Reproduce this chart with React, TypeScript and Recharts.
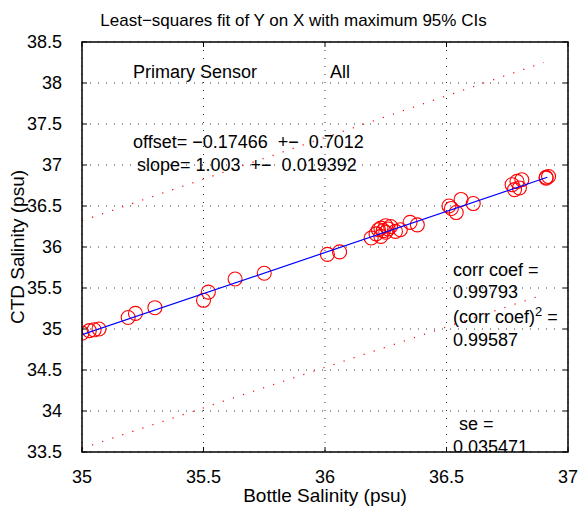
import React from "react";
import { Scatter, ScatterChart, XAxis, YAxis } from "recharts";

// bottle vs CTD salinity samples (psu)
const bottleSal = [
  35.0, 35.03, 35.05, 35.07, 35.19, 35.22, 35.3, 35.5, 35.52, 35.63, 35.75, 36.01, 36.06,
  36.19, 36.21, 36.23, 36.22, 36.23, 36.25, 36.27, 36.25, 36.29, 36.31, 36.35, 36.38, 36.24, 36.26,
  36.51, 36.52, 36.54, 36.56, 36.61, 36.77, 36.79, 36.81, 36.78, 36.8, 36.91, 36.92, 36.91,
];
const ctdSal = [
  34.95, 34.98, 34.99, 35.0, 35.14, 35.19, 35.26, 35.35, 35.45, 35.61, 35.68, 35.91, 35.94,
  36.11, 36.16, 36.13, 36.21, 36.23, 36.26, 36.25, 36.18, 36.19, 36.21, 36.3, 36.27, 36.2, 36.22,
  36.5, 36.47, 36.42, 36.58, 36.53, 36.76, 36.8, 36.82, 36.7, 36.72, 36.85, 36.86, 36.84,
];

// fit line and 95% CI lines, end points
const fitX = [35.0, 36.915];
const fitY = [34.93, 36.85];
const ciX = [35.0, 36.9];
const ciUpperY = [36.32, 38.25];
const ciLowerY = [33.545, 35.42];

const xTicks = [35, 35.5, 36, 36.5, 37];
const yTicks = [33.5, 34, 34.5, 35, 35.5, 36, 36.5, 37, 37.5, 38, 38.5];

const W = 581;
const H = 510;
const FONT = "'Liberation Sans', Arial, Helvetica, sans-serif";

// plot box (same numbers as the chart margins / axis sizes below)
const PL = 82;
const PT = 42;
const PW = 486;
const PH = 410;
const sx = (v: number) => PL + ((v - 35) / 2) * PW;
const sy = (v: number) => PT + PH - ((v - 33.5) / 5) * PH;

const pts = bottleSal.map((x, i) => ({ x, y: ctdSal[i] }));
const fit = fitX.map((x, i) => ({ x, y: fitY[i] }));
const ciUp = ciX.map((x, i) => ({ x, y: ciUpperY[i] }));
const ciLo = ciX.map((x, i) => ({ x, y: ciLowerY[i] }));

const circle = (p: any) => (
  <circle cx={p.cx} cy={p.cy} r={7} fill="none" stroke="#ff0000" strokeWidth={1.1} />
);
const noDot = () => <g />;

const tickStyle = { fill: "#000", fontSize: 18, fontFamily: FONT };

// dotted matlab grid, drawn under the chart
function Grid() {
  const d =
    xTicks.map((v) => `M${sx(v)},${PT}V${PT + PH}`).join("") +
    yTicks.map((v) => `M${PL},${sy(v)}H${PL + PW}`).join("");
  return (
    <svg width={W} height={H} style={{ position: "absolute", left: 0, top: 0 }}>
      <path d={d} stroke="#333" strokeWidth={1} strokeDasharray="1 7" fill="none" />
    </svg>
  );
}

function Overlay() {
  const t = { fontFamily: FONT, fontSize: 18, fill: "#000", whiteSpace: "pre" as const };
  const ticks =
    xTicks.map((v) => `M${sx(v)},${PT}v5M${sx(v)},${PT + PH}v-5`).join("") +
    yTicks.map((v) => `M${PL},${sy(v)}h5M${PL + PW},${sy(v)}h-5`).join("");
  return (
    <svg
      width={W}
      height={H}
      style={{ position: "absolute", left: 0, top: 0, pointerEvents: "none" }}
    >
      <defs>
        <clipPath id="plotClip">
          <rect x={PL} y={PT} width={PW} height={PH} />
        </clipPath>
      </defs>
      <text x={293.5} y={26} textAnchor="middle" style={{ ...t, fontSize: 17 }}>
        Least−squares fit of Y on X with maximum 95% CIs
      </text>
      <text x={325} y={502} textAnchor="middle" style={{ ...t, fontSize: 19 }}>
        Bottle Salinity (psu)
      </text>
      <text
        x={0}
        y={0}
        textAnchor="middle"
        transform="translate(24,247) rotate(-90)"
        style={{ ...t, fontSize: 19 }}
      >
        CTD Salinity (psu)
      </text>
      <g clipPath="url(#plotClip)">
        <text x={133} y={78} style={t}>Primary Sensor</text>
        <text x={330} y={78} style={t}>All</text>
        <text x={133} y={148} style={t}>offset= −0.17466  +−  0.7012</text>
        <text x={137} y={170.5} style={t}>slope= 1.003  +−  0.019392</text>
        <text x={453} y={276} style={t}>corr coef =</text>
        <text x={453} y={298} style={t}>0.99793</text>
        <text x={453} y={323} style={t}>
          (corr coef)
          <tspan dy={-7} fontSize={13}>2</tspan>
          <tspan dy={7}> =</tspan>
        </text>
        <text x={453} y={345.5} style={t}>0.99587</text>
        <text x={459} y={430} style={t}>se =</text>
        <text x={453} y={453} style={t}>0.035471</text>
      </g>
      <path d={ticks} stroke="#000" strokeWidth={1} fill="none" />
      <path
        d={`M${PL},${PT}H${PL + PW}V${PT + PH}H${PL}Z`}
        stroke="#000"
        strokeWidth={1.5}
        fill="none"
      />
    </svg>
  );
}

export default function App() {
  return (
    <div style={{ position: "absolute", left: 0, top: 0, width: W, height: H, background: "#fff" }}>
      <Grid />
      <div style={{ position: "absolute", left: 0, top: 0 }}>
        <ScatterChart width={W} height={H} margin={{ top: PT, right: W - PL - PW, bottom: 0, left: 0 }}>
          <XAxis
            type="number"
            dataKey="x"
            domain={[35, 37]}
            ticks={xTicks}
            height={H - PT - PH}
            allowDataOverflow
            tick={tickStyle}
            tickLine={false}
            tickMargin={12}
            axisLine={false}
          />
          <YAxis
            type="number"
            dataKey="y"
            domain={[33.5, 38.5]}
            ticks={yTicks}
            width={PL}
            allowDataOverflow
            tick={tickStyle}
            tickLine={false}
            tickMargin={14}
            axisLine={false}
          />
          <Scatter
            data={ciUp}
            line={{ stroke: "#ff0000", strokeWidth: 1.2, strokeDasharray: "1.2 9.4" }}
            lineType="joint"
            shape={noDot}
            isAnimationActive={false}
          />
          <Scatter
            data={ciLo}
            line={{ stroke: "#ff0000", strokeWidth: 1.2, strokeDasharray: "1.2 9.4" }}
            lineType="joint"
            shape={noDot}
            isAnimationActive={false}
          />
          <Scatter data={pts} shape={circle} isAnimationActive={false} />
          <Scatter
            data={fit}
            line={{ stroke: "#0000ff", strokeWidth: 1.2 }}
            lineType="joint"
            shape={noDot}
            isAnimationActive={false}
          />
        </ScatterChart>
      </div>
      <Overlay />
    </div>
  );
}
